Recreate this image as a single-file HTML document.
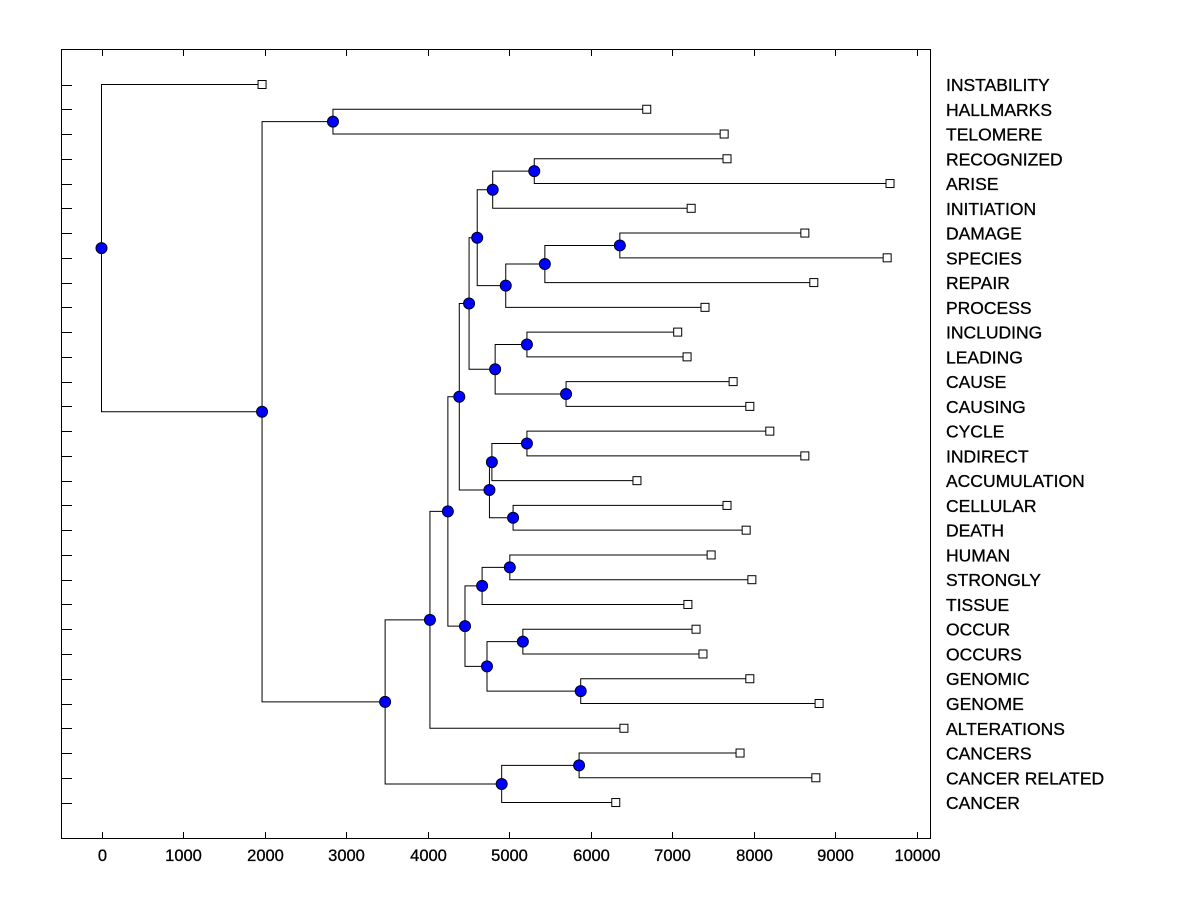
<!DOCTYPE html>
<html><head><meta charset="utf-8"><style>
html,body{margin:0;padding:0;background:#fff;}
svg text{font-family:"Liberation Sans",Arial,sans-serif;}
</style></head><body>
<svg id="chart" width="1200" height="900" viewBox="0 0 1200 900" xmlns="http://www.w3.org/2000/svg">
<rect x="0" y="0" width="1200" height="900" fill="#fff"/>
<rect x="61.5" y="49.5" width="869" height="789" fill="none" stroke="#000" stroke-width="1"/>
<g id="axes"></g><g id="tree"></g><g id="marks"></g><g id="labels"></g>
</svg>
<script>
const leafLabels = ["INSTABILITY","HALLMARKS","TELOMERE","RECOGNIZED","ARISE","INITIATION","DAMAGE","SPECIES","REPAIR","PROCESS","INCLUDING","LEADING","CAUSE","CAUSING","CYCLE","INDIRECT","ACCUMULATION","CELLULAR","DEATH","HUMAN","STRONGLY","TISSUE","OCCUR","OCCURS","GENOMIC","GENOME","ALTERATIONS","CANCERS","CANCER RELATED","CANCER"];
const leafValues = [1970,6690,7640,7675,9675,7235,8630,9640,8740,7405,7070,7185,7750,7955,8200,8630,6570,7675,7910,7480,7980,7195,7295,7380,7955,8805,6410,7835,8765,6310];
const merges = [[3,4],[30,5],[6,7],[32,8],[33,9],[31,34],[10,11],[12,13],[36,37],[35,38],[14,15],[40,16],[17,18],[41,42],[39,43],[19,20],[45,21],[22,23],[24,25],[47,48],[46,49],[44,50],[51,26],[27,28],[53,29],[52,54],[1,2],[56,55],[0,57]];
const mergeHeights = [5310,4800,6360,5440,4960,4610,5220,5700,4830,4510,5220,4790,5050,4760,4390,5010,4670,5170,5880,4730,4460,4250,4030,5860,4910,3480,2840,1970,0];
const xTicks = [0,1000,2000,3000,4000,5000,6000,7000,8000,9000,10000];

const NS="http://www.w3.org/2000/svg";
const xs = v => 101.5 + v*0.0815;
const ys = i => 84.5 + i*24.76;
function mk(tag, attrs, parent){const e=document.createElementNS(NS,tag);for(const k in attrs)e.setAttribute(k,attrs[k]);document.getElementById(parent).appendChild(e);return e;}

xTicks.forEach(t=>{
  const x=Math.round(xs(t))+0.5;
  const a=mk('line',{x1:x,x2:x,y1:838,y2:832,stroke:'#000'},'axes');
  
  
  const b=mk('line',{x1:x,x2:x,y1:50,y2:56,stroke:'#000'},'axes');
  
  
  const tx=mk('text',{x:x,y:861,'font-size':'16.5','text-anchor':'middle',stroke:'#000','stroke-width':'0.3'},'axes');
  tx.textContent=t;
  
  
});
leafLabels.forEach((l,i)=>{
  const y=Math.round(ys(i))+0.5;
  const t=mk('line',{x1:62,x2:72,y1:y,y2:y,stroke:'#000'},'axes');
  
  
  const tx=mk('text',{x:946,y:ys(i)+6.5,'font-size':'17.5',stroke:'#000','stroke-width':'0.3'},'labels');
  tx.textContent=l;
  
  
});

const nx=[], ny=[];
leafValues.forEach((v,i)=>{nx.push(xs(v));ny.push(ys(i));});
merges.forEach((m,k)=>{
  const x=xs(mergeHeights[k]);
  const y=(ny[m[0]]+ny[m[1]])/2;
  nx.push(x);ny.push(y);
  const p=mk('path',{d:`M${nx[m[0]]},${ny[m[0]]}H${x}V${ny[m[1]]}H${nx[m[1]]}`,fill:'none',stroke:'#000','stroke-width':1},'tree');
  
  
});
merges.forEach((m,k)=>{
  const c=mk('circle',{cx:nx[30+k],cy:ny[30+k],r:5.5,fill:'#0000ff',stroke:'#000020','stroke-width':1},'marks');
  
  
});
leafValues.forEach((v,i)=>{
  const r=mk('rect',{x:nx[i]-4,y:ny[i]-4,width:8,height:8,fill:'#fff',stroke:'#000'},'marks');
  
  
});
</script>
</body></html>
